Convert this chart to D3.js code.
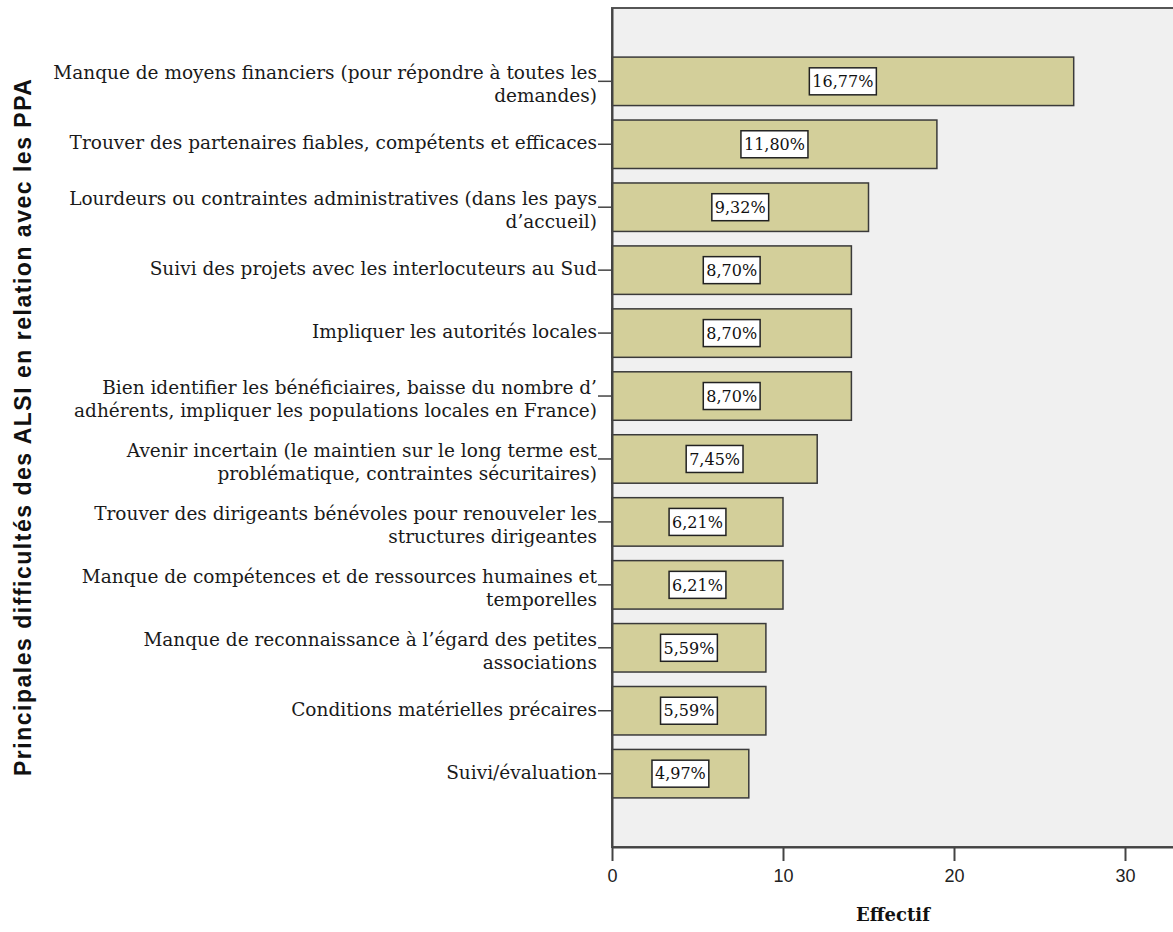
<!DOCTYPE html>
<html>
<head>
<meta charset="utf-8">
<script src="https://cdn.jsdelivr.net/npm/d3@7"></script>
<style>
  html, body { margin: 0; padding: 0; background: #ffffff; }
  svg { display: block; }
</style>
</head>
<body>
<svg id="chart" width="1173" height="932"></svg>
<script>
// ---- data ----
const categories = [
  "Manque de moyens financiers (pour répondre à toutes les|demandes)",
  "Trouver des partenaires fiables, compétents et efficaces",
  "Lourdeurs ou contraintes administratives (dans les pays|d’accueil)",
  "Suivi des projets avec les interlocuteurs au Sud",
  "Impliquer les autorités locales",
  "Bien identifier les bénéficiaires, baisse du nombre d’|adhérents, impliquer les populations locales en France)",
  "Avenir incertain (le maintien sur le long terme est|problématique, contraintes sécuritaires)",
  "Trouver des dirigeants bénévoles pour renouveler les|structures dirigeantes",
  "Manque de compétences et de ressources humaines et|temporelles",
  "Manque de reconnaissance à l’égard des petites|associations",
  "Conditions matérielles précaires",
  "Suivi/évaluation"
];
const counts = [27, 19, 15, 14, 14, 14, 12, 10, 10, 9, 9, 8];
const percentLabels = ["16,77%", "11,80%", "9,32%", "8,70%", "8,70%", "8,70%", "7,45%", "6,21%", "6,21%", "5,59%", "5,59%", "4,97%"];
const xTicks = [0, 10, 20, 30];
const xTitle = "Effectif";
const yTitle = "Principales difficultés des ALSI en relation avec les PPA";

// ---- layout ----
const plotLeft = 612, plotTop = 8, plotBottom = 847, plotRight = 1190;
const labelRight = 597, labelLeft = 53;
const svg = d3.select("#chart");

const x = d3.scaleLinear().domain([0, 33.5]).range([plotLeft, plotLeft + 33.5 * 17.1]);
const y = d3.scaleBand().domain(categories).range([plotTop, plotBottom])
  .paddingInner(0.23).paddingOuter(0.78);

// plot background
svg.append("rect")
  .attr("x", plotLeft).attr("y", plotTop)
  .attr("width", plotRight - plotLeft).attr("height", plotBottom - plotTop)
  .attr("fill", "#f0f0f0").attr("stroke", "#555555").attr("stroke-width", 2);

// bars
svg.append("g").selectAll("rect")
  .data(categories)
  .join("rect")
  .attr("x", x(0))
  .attr("y", d => y(d))
  .attr("width", (d, i) => x(counts[i]) - x(0))
  .attr("height", y.bandwidth())
  .attr("fill", "#d3cf9a")
  .attr("stroke", "#3a3a3a")
  .attr("stroke-width", 1.5);

// percent labels
const pl = svg.append("g").selectAll("g")
  .data(categories)
  .join("g")
  .attr("transform", (d, i) => `translate(${(x(0) + x(counts[i])) / 2},${y(d) + y.bandwidth() / 2})`);
pl.append("text")
  .attr("text-anchor", "middle")
  .attr("dy", "0.36em")
  .attr("font-family", "DejaVu Serif")
  .attr("font-size", 16)
  .attr("fill", "#111")
  .text((d, i) => percentLabels[i]);
pl.each(function () {
  const g = d3.select(this);
  const bb = g.select("text").node().getBBox();
  g.insert("rect", "text")
    .attr("x", bb.x - 3).attr("y", -13.5)
    .attr("width", bb.width + 6).attr("height", 27)
    .attr("fill", "#ffffff").attr("stroke", "#222").attr("stroke-width", 1.5);
});

// y axis (ticks only) + multi-line labels
const yAxis = svg.append("g")
  .attr("transform", `translate(${plotLeft},0)`)
  .call(d3.axisLeft(y).tickSize(14).tickSizeOuter(0).tickFormat(""));
yAxis.select(".domain").attr("stroke", "#444").attr("stroke-width", 2);
yAxis.selectAll(".tick line").attr("stroke", "#444").attr("stroke-width", 1.5);

const labelG = svg.append("g")
  .attr("font-family", "DejaVu Serif")
  .attr("fill", "#1a1a1a");
// fit font size so that the widest line spans labelLeft..labelRight
const probe = labelG.append("text").attr("font-size", 16)
  .text(categories[0].split("|")[0]);
const labelSize = 16 * (labelRight - labelLeft) / probe.node().getComputedTextLength();
probe.remove();

const lab = labelG.selectAll("text")
  .data(categories)
  .join("text")
  .attr("text-anchor", "end")
  .attr("font-size", labelSize);
lab.each(function (d) {
  const lines = d.split("|");
  const cy = y(d) + y.bandwidth() / 2;
  const t = d3.select(this);
  if (lines.length === 1) {
    t.append("tspan").attr("x", labelRight).attr("y", cy + 5).text(lines[0]);
  } else {
    t.append("tspan").attr("x", labelRight).attr("y", cy - 2).text(lines[0]);
    t.append("tspan").attr("x", labelRight).attr("y", cy + 21).text(lines[1]);
  }
});

// x axis
const xAxis = svg.append("g")
  .attr("transform", `translate(0,${plotBottom})`)
  .call(d3.axisBottom(x).tickValues(xTicks).tickSize(14).tickSizeOuter(0).tickPadding(8).tickFormat(d3.format("d")));
xAxis.select(".domain").attr("stroke", "#444").attr("stroke-width", 2);
xAxis.selectAll(".tick line").attr("stroke", "#444").attr("stroke-width", 2);
xAxis.selectAll(".tick text")
  .attr("font-family", "Liberation Sans Narrow, Liberation Sans, sans-serif")
  .attr("font-size", 18)
  .attr("fill", "#222");

// axis titles
svg.append("text")
  .attr("x", 893).attr("y", 921)
  .attr("text-anchor", "middle")
  .attr("font-family", "DejaVu Serif")
  .attr("font-weight", "bold")
  .attr("font-size", 18)
  .attr("fill", "#111")
  .text(xTitle);

svg.append("text")
  .attr("transform", `translate(31,${(plotTop + plotBottom) / 2}) rotate(-90)`)
  .attr("text-anchor", "middle")
  .attr("font-family", "Liberation Sans, Arial, sans-serif")
  .attr("font-weight", "bold")
  .attr("font-size", 23)
  .attr("textLength", 697)
  .attr("lengthAdjust", "spacing")
  .attr("fill", "#111")
  .text(yTitle);
</script>
</body>
</html>
